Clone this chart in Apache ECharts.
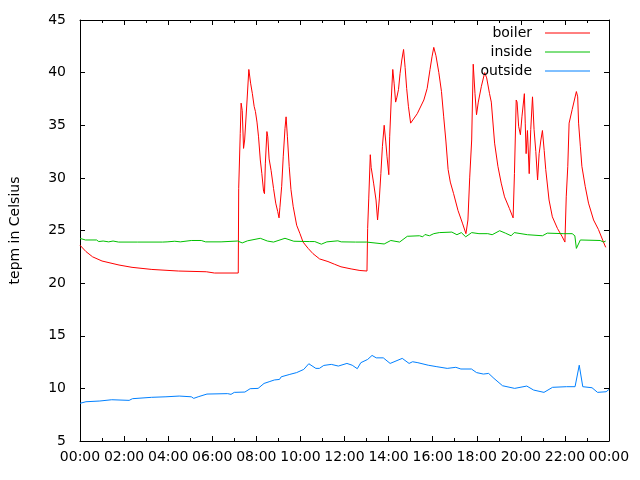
<!DOCTYPE html>
<html>
<head>
<meta charset="utf-8">
<title>boiler / inside / outside</title>
<script src="https://cdn.jsdelivr.net/npm/echarts@6/dist/echarts.min.js"></script>
<style>
  html, body { margin: 0; padding: 0; background: #fff; }
  #chart { width: 640px; height: 480px; }
</style>
</head>
<body>
<div id="chart"></div>
<script>
// hours since midnight, temperature in Celsius
var boilerHours = [0, 0.27, 0.57, 1.0, 1.77, 2.36, 3.26, 4.46, 5.73, 6.1, 7.18, 7.2, 7.27, 7.31, 7.36, 7.42, 7.47, 7.58, 7.66, 7.74, 7.82, 7.9, 7.96, 8.03, 8.1, 8.18, 8.25, 8.33, 8.37, 8.41, 8.48, 8.52, 8.58, 8.67, 8.78, 8.88, 8.97, 9.03, 9.07, 9.15, 9.22, 9.3, 9.35, 9.41, 9.49, 9.57, 9.67, 9.83, 9.98, 10.12, 10.35, 10.57, 10.87, 11.25, 11.54, 11.84, 12.3, 12.7, 13.02, 13.05, 13.1, 13.17, 13.21, 13.32, 13.43, 13.5, 13.58, 13.65, 13.72, 13.8, 13.87, 13.93, 14.01, 14.05, 14.12, 14.19, 14.25, 14.32, 14.37, 14.45, 14.52, 14.6, 14.68, 14.75, 14.82, 14.9, 15.0, 15.3, 15.6, 15.75, 15.88, 15.97, 16.05, 16.15, 16.28, 16.4, 16.5, 16.6, 16.7, 16.8, 16.95, 17.15, 17.35, 17.51, 17.6, 17.68, 17.77, 17.84, 17.92, 17.99, 18.07, 18.21, 18.36, 18.45, 18.58, 18.66, 18.81, 18.96, 19.11, 19.26, 19.48, 19.65, 19.71, 19.79, 19.83, 19.9, 19.98, 20.05, 20.16, 20.2, 20.24, 20.3, 20.38, 20.45, 20.53, 20.6, 20.68, 20.76, 20.83, 20.91, 20.98, 21.06, 21.13, 21.28, 21.43, 21.66, 21.88, 22.0, 22.06, 22.13, 22.19, 22.33, 22.43, 22.52, 22.58, 22.62, 22.7, 22.77, 22.92, 23.07, 23.3, 23.52, 23.75, 23.85];
var boilerTemp = [23.6, 23.0, 22.5, 22.1, 21.72, 21.5, 21.3, 21.15, 21.08, 20.96, 20.96, 29.0, 34.2, 37.1, 36.4, 32.8, 33.6, 37.4, 40.3, 39.0, 38.0, 36.8, 36.3, 35.3, 33.9, 31.7, 30.4, 28.7, 28.5, 31.4, 34.4, 33.9, 31.8, 30.7, 29.0, 27.6, 26.8, 26.2, 27.2, 29.2, 32.0, 34.7, 35.8, 33.9, 31.1, 28.9, 27.3, 25.5, 24.7, 23.9, 23.3, 22.8, 22.3, 22.05, 21.8, 21.55, 21.35, 21.2, 21.15, 25.2, 28.0, 32.2, 31.0, 29.5, 27.9, 26.0, 28.0, 30.4, 33.0, 35.0, 33.5, 32.0, 30.3, 33.9, 37.4, 40.3, 39.0, 37.2, 37.6, 38.4, 39.9, 41.2, 42.2, 40.5, 38.5, 36.8, 35.2, 36.1, 37.4, 38.5, 40.3, 41.5, 42.4, 41.6, 40.0, 38.2, 35.8, 33.5, 30.8, 29.6, 28.5, 26.9, 25.7, 24.7, 26.0, 30.0, 33.6, 40.8, 38.0, 36.0, 37.2, 38.7, 40.0, 39.5, 38.0, 37.2, 33.3, 31.1, 29.5, 28.2, 27.1, 26.2, 30.4, 37.4, 37.2, 34.9, 34.1, 35.8, 38.0, 35.2, 32.3, 34.5, 30.4, 34.6, 37.7, 34.6, 32.5, 29.8, 32.3, 33.6, 34.5, 32.6, 30.8, 27.9, 26.3, 25.2, 24.4, 23.9, 28.2, 31.1, 35.2, 36.5, 37.4, 38.2, 37.7, 35.2, 33.0, 31.1, 29.2, 27.6, 26.0, 25.1, 23.9, 23.4];

var insideHours = [0, 0.25, 0.75, 0.85, 1.05, 1.3, 1.5, 1.75, 2.45, 2.5, 2.6, 3.75, 3.8, 3.95, 4.3, 4.55, 5.05, 5.5, 5.7, 6.4, 7.15, 7.36, 7.6, 8.18, 8.5, 8.78, 9.3, 9.7, 10.4, 10.65, 10.95, 11.2, 11.7, 11.85, 12.5, 13.0, 13.8, 14.1, 14.5, 14.85, 15.4, 15.55, 15.65, 15.85, 16.05, 16.3, 16.87, 17.1, 17.3, 17.5, 17.77, 18.1, 18.5, 18.7, 19.04, 19.3, 19.56, 19.7, 20.3, 20.98, 21.2, 21.95, 22.33, 22.45, 22.52, 22.7, 23.6, 23.75, 23.85];
var insideTemp = [24.25, 24.1, 24.1, 23.95, 24.0, 23.92, 24.0, 23.9, 23.9, 23.82, 23.9, 23.9, 24.02, 23.92, 23.98, 23.92, 24.05, 24.05, 23.92, 23.92, 24.0, 23.82, 24.02, 24.26, 24.0, 23.9, 24.26, 23.98, 23.95, 23.95, 23.7, 23.92, 24.02, 23.92, 23.9, 23.9, 23.72, 24.05, 23.9, 24.45, 24.5, 24.4, 24.62, 24.5, 24.7, 24.8, 24.85, 24.6, 24.8, 24.4, 24.8, 24.7, 24.7, 24.6, 24.98, 24.75, 24.5, 24.8, 24.6, 24.5, 24.75, 24.7, 24.7, 24.5, 23.3, 24.1, 24.05, 23.9, 24.0];

var outsideHours = [0, 0.27, 0.9, 1.44, 2.23, 2.38, 3.25, 3.9, 4.5, 5.05, 5.16, 5.36, 5.76, 6.7, 6.85, 7.0, 7.48, 7.72, 8.08, 8.35, 8.58, 8.82, 9.05, 9.13, 9.52, 9.83, 10.15, 10.38, 10.7, 10.86, 11.06, 11.4, 11.72, 12.11, 12.35, 12.58, 12.74, 13.05, 13.25, 13.44, 13.76, 14.07, 14.62, 14.93, 15.09, 15.33, 15.8, 16.19, 16.66, 17.05, 17.28, 17.76, 17.99, 18.3, 18.54, 18.78, 19.17, 19.72, 20.27, 20.58, 21.05, 21.44, 22.07, 22.46, 22.65, 22.81, 23.23, 23.48, 23.87, 24];
var outsideTemp = [8.58, 8.73, 8.8, 8.92, 8.86, 9.02, 9.15, 9.2, 9.27, 9.2, 9.05, 9.2, 9.46, 9.5, 9.43, 9.62, 9.65, 9.97, 10.0, 10.47, 10.63, 10.8, 10.85, 11.1, 11.33, 11.5, 11.8, 12.34, 11.9, 11.9, 12.18, 12.28, 12.12, 12.37, 12.2, 11.87, 12.44, 12.75, 13.13, 12.9, 12.9, 12.37, 12.85, 12.37, 12.53, 12.44, 12.2, 12.06, 11.9, 12.0, 11.84, 11.84, 11.5, 11.36, 11.42, 10.95, 10.25, 10.0, 10.22, 9.84, 9.62, 10.1, 10.16, 10.16, 12.2, 10.16, 10.06, 9.62, 9.68, 9.9];

var seriesNames = ['boiler', 'inside', 'outside'];
var seriesColors = ['#ff0000', '#00c000', '#0080ff'];

function pairs(hours, temps) {
    return hours.map(function (h, i) { return [h, temps[i]]; });
}
// 24 wraps round to 00:00 like the original plot
function hourLabel(v) {
    var h = Math.round(v) % 24;
    return (h < 10 ? '0' + h : '' + h) + ':00';
}

var FONT = 'DejaVu Sans';
var tickStyle = { inside: true, length: 5, lineStyle: { color: '#000', width: 1 } };
var minorStyle = { show: true, splitNumber: 2, length: 3, lineStyle: { color: '#000', width: 1 } };
var lineAxis = { show: true, onZero: false, lineStyle: { color: '#000', width: 1 } };

var chart = echarts.init(document.getElementById('chart'), null, { renderer: 'canvas' });

var legendGraphics = [];
seriesNames.forEach(function (name, i) {
    var y = 33 + i * 19;
    legendGraphics.push({
        type: 'text', z: 100,
        style: { text: name, x: 532, y: y, textAlign: 'right', textVerticalAlign: 'middle',
                 font: '14px "' + FONT + '"', fill: '#000' }
    });
    legendGraphics.push({
        type: 'line', z: 100,
        shape: { x1: 545, y1: y, x2: 590, y2: y },
        style: { stroke: seriesColors[i], lineWidth: 1 }
    });
});

chart.setOption({
    animation: false,
    backgroundColor: '#fff',
    textStyle: { fontFamily: FONT },
    grid: { left: 74, right: 31, top: 20, bottom: 39 },
    xAxis: [{
        type: 'value', min: 0, max: 24, interval: 2, position: 'bottom',
        axisLine: lineAxis, axisTick: tickStyle, minorTick: minorStyle,
        splitLine: { show: false },
        axisLabel: { formatter: hourLabel, color: '#000', fontSize: 14, fontFamily: FONT, margin: 9 }
    }, {
        type: 'value', min: 0, max: 24, interval: 2, position: 'top',
        axisLine: lineAxis, axisTick: tickStyle, minorTick: minorStyle,
        splitLine: { show: false }, axisLabel: { show: false }
    }],
    yAxis: [{
        type: 'value', min: 5, max: 45, interval: 5, position: 'left',
        name: 'tepm in Celsius', nameLocation: 'middle', nameGap: 58,
        nameTextStyle: { color: '#000', fontSize: 14, fontFamily: FONT },
        axisLine: lineAxis, axisTick: tickStyle,
        splitLine: { show: false },
        axisLabel: { color: '#000', fontSize: 14, fontFamily: FONT, margin: 14 }
    }, {
        type: 'value', min: 5, max: 45, interval: 5, position: 'right',
        axisLine: lineAxis, axisTick: tickStyle,
        splitLine: { show: false }, axisLabel: { show: false }
    }],
    series: [
        { name: seriesNames[0], data: pairs(boilerHours, boilerTemp) },
        { name: seriesNames[1], data: pairs(insideHours, insideTemp) },
        { name: seriesNames[2], data: pairs(outsideHours, outsideTemp) }
    ].map(function (s, i) {
        return {
            name: s.name, type: 'line', data: s.data,
            xAxisIndex: 0, yAxisIndex: 0,
            showSymbol: false, symbol: 'none',
            lineStyle: { color: seriesColors[i], width: 1 },
            itemStyle: { color: seriesColors[i] }
        };
    }),
    graphic: legendGraphics
});
</script>
</body>
</html>
